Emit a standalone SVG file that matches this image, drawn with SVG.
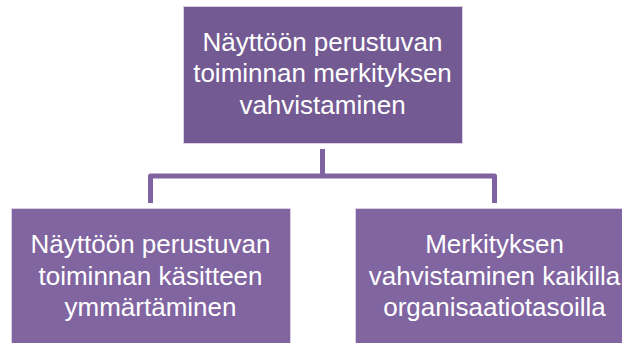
<svg xmlns="http://www.w3.org/2000/svg" width="622" height="343" viewBox="0 0 622 343">
<style>
.box{stroke:#d8cfe3;stroke-width:1}
.top{fill:#735a92}
.sub{fill:#8165a1}
.lbl{font-family:"Liberation Sans",Arial,sans-serif;font-size:26px;fill:#ffffff;text-anchor:middle}
.conn{fill:none;stroke:#8064a2;stroke-width:5;stroke-linejoin:round}
</style>
<rect width="622" height="343" fill="#ffffff"/>
<g id="connectors">
<path class="conn" d="M322.5,149 V176"/>
<path class="conn" d="M150.5,203 V176 H494.5 V203"/>
</g>
<g id="node-top">
<rect class="box top" x="183.5" y="6.5" width="279" height="137"/>
<text class="lbl" x="322.5" y="50.5">Näyttöön perustuvan</text>
<text class="lbl" x="322.5" y="82">toiminnan merkityksen</text>
<text class="lbl" x="322.5" y="113.5">vahvistaminen</text>
</g>
<g id="node-left">
<rect class="box sub" x="11.5" y="208.5" width="279" height="137"/>
<text class="lbl" x="150.5" y="253">Näyttöön perustuvan</text>
<text class="lbl" x="150.5" y="284.5">toiminnan käsitteen</text>
<text class="lbl" x="150.5" y="316">ymmärtäminen</text>
</g>
<g id="node-right">
<rect class="box sub" x="355.5" y="208.5" width="279" height="137"/>
<text class="lbl" x="494.5" y="253">Merkityksen</text>
<text class="lbl" x="494.5" y="284.5">vahvistaminen kaikilla</text>
<text class="lbl" x="494.5" y="316">organisaatiotasoilla</text>
</g>
</svg>
